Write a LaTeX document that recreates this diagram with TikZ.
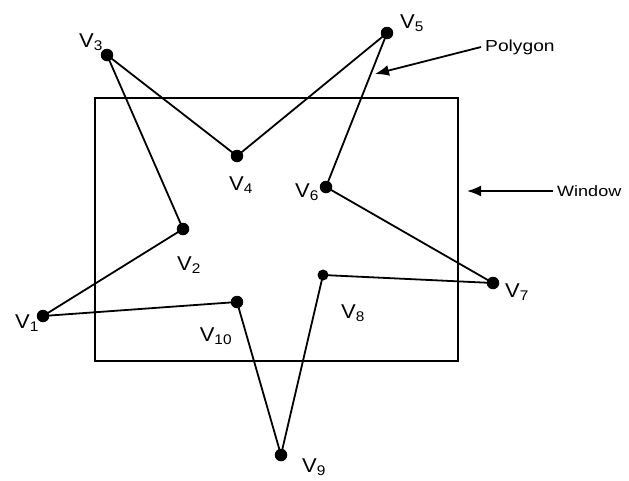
\documentclass[tikz,border=0pt]{standalone}
\usepackage{fontspec}
\setmainfont{Liberation Sans}
\usepackage{tikz}
\usetikzlibrary{arrows.meta}

\begin{document}
\begin{tikzpicture}[x=1pt,y=-1pt,
  vertex/.style={circle,fill=black,inner sep=0pt,minimum size=12.5pt},
  vlabel/.style={font=\fontsize{20}{22}\selectfont,xscale=1.1},
  tag/.style={font=\fontsize{16}{18}\selectfont,xscale=1.2}]
\useasboundingbox (0,0) rectangle (629,480);
% the window:
\path[draw=black,line width=2pt] (95,98) rectangle (458,361);
% vertices of the polygon:
\node[vertex] (v1) at (43,316) {};
\node[vertex] (v2) at (183,229) {};
\node[vertex] (v3) at (107,55) {};
\node[vertex] (v4) at (237,156) {};
\node[vertex] (v5) at (387,33) {};
\node[vertex] (v6) at (326,187) {};
\node[vertex] (v7) at (493,283) {};
\node[vertex,minimum size=11pt] (v8) at (323,275) {};
\node[vertex] (v9) at (281,455) {};
\node[vertex] (v10) at (237,302) {};
% polygon edges:
\draw[black,line width=1.8pt] (v1.center) -- (v2.center) -- (v3.center) -- (v4.center)
  -- (v5.center) -- (v6.center) -- (v7.center) -- (v8.center) -- (v9.center)
  -- (v10.center) -- (v1.center);
% vertex labels:
\node[vlabel] (l1) at (27,323) {V\textsubscript{1}};
\node[vlabel] (l2) at (189,265) {V\textsubscript{2}};
\node[vlabel] (l3) at (91,42) {V\textsubscript{3}};
\node[vlabel] (l4) at (241,185) {V\textsubscript{4}};
\node[vlabel] (l5) at (412,23) {V\textsubscript{5}};
\node[vlabel] (l6) at (307,192) {V\textsubscript{6}};
\node[vlabel] (l7) at (517,292) {V\textsubscript{7}};
\node[vlabel] (l8) at (353,313) {V\textsubscript{8}};
\node[vlabel] (l9) at (314,467) {V\textsubscript{9}};
\node[vlabel] (l10) at (216,336) {V\textsubscript{10}};
% pointers:
\node[tag,anchor=west] (poly) at (481,47) {Polygon};
\node[tag,anchor=west,font=\fontsize{15}{18}\selectfont] (win) at (553,191) {Window};
\coordinate (polytip) at (375,74);
\coordinate (wintip) at (467,191);
\draw[black,line width=1.8pt,-{Latex[length=14pt,width=11pt]}] (poly.west) -- (polytip);
\draw[black,line width=1.8pt,-{Latex[length=14pt,width=11pt]}] (win.west) -- (wintip);
\end{tikzpicture}
\end{document}
